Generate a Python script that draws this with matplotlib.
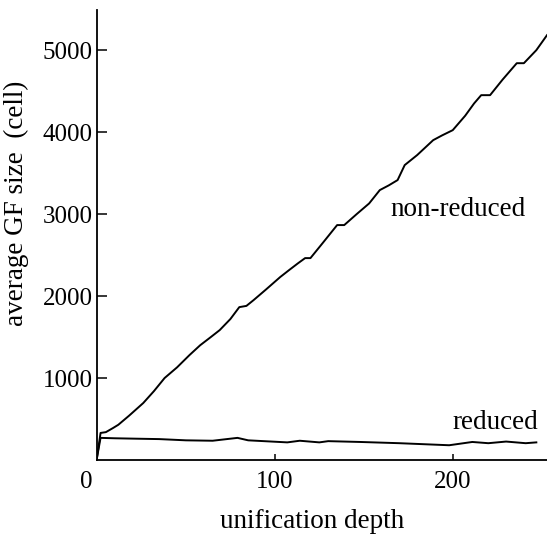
import matplotlib
matplotlib.use('Agg')
import matplotlib.pyplot as plt
import matplotlib.transforms as mtransforms

# unification depth vs average GF size (cell)
nonred_depth = [0, 2, 5, 9, 12, 18, 26, 32, 38, 45, 52, 58, 64, 69, 75, 80, 84, 88,
                95, 103, 108, 113, 117, 120, 127, 135, 139, 146, 153, 159, 164, 169,
                173, 180, 189, 194, 200, 207, 212, 216, 221, 228, 236, 240, 247, 253]
nonred_size = [30, 330, 340, 390, 430, 540, 695, 840, 1000, 1130, 1280, 1400, 1500,
               1585, 1720, 1865, 1880, 1950, 2080, 2232, 2317, 2400, 2463, 2463, 2650,
               2866, 2866, 3000, 3130, 3293, 3350, 3415, 3598, 3720, 3902, 3960, 4024,
               4200, 4350, 4451, 4451, 4640, 4841, 4841, 5000, 5183]

red_depth = [0, 2, 10, 22, 35, 50, 65, 79, 85, 107, 114, 125, 130, 148, 170, 198,
             211, 220, 230, 241, 247]
red_size = [30, 270, 265, 260, 255, 240, 235, 270, 240, 215, 235, 215, 230, 220, 205,
            180, 220, 205, 225, 205, 215]

x_ticks = [0, 100, 200]
y_ticks = [1000, 2000, 3000, 4000, 5000]

plt.rcParams['font.family'] = ['Liberation Serif', 'DejaVu Serif']

fig = plt.figure(figsize=(5.47, 5.35), dpi=100)
ax = fig.add_axes([97 / 547, 75 / 535, 450 / 547, 450 / 535])

ax.plot(nonred_depth, nonred_size, color='black', lw=1.4)
ax.plot(red_depth, red_size, color='black', lw=1.4)

ax.set_xlim(0, 253)
ax.set_ylim(0, 5490)

for side in ['top', 'right']:
    ax.spines[side].set_visible(False)
for side in ['left', 'bottom']:
    ax.spines[side].set_linewidth(1.3)

ax.set_xticks(x_ticks)
ax.set_yticks(y_ticks)
ax.tick_params(axis='y', direction='in', length=7, width=1.1, labelsize=18, pad=3)
ax.tick_params(axis='x', direction='in', length=4, width=1.1, labelsize=18, pad=8)
ax.xaxis.get_major_ticks()[0].tick1line.set_visible(False)

# the "0" sits a bit left of the origin in the original
lbl0 = ax.get_xticklabels()[0]
lbl0.set_transform(lbl0.get_transform() +
                   mtransforms.ScaledTranslation(-11 / 100, 0, fig.dpi_scale_trans))

ax.set_xlabel('unification depth', fontsize=19.5)
ax.set_ylabel('average GF size  (cell)', fontsize=19.5)
ax.xaxis.set_label_coords(0.478, -0.108)
ax.yaxis.set_label_coords(-0.152, 0.57)

ax.text(203, 3060, 'non-reduced', fontsize=19.5, ha='center', va='center')
ax.text(224, 463, 'reduced', fontsize=19.5, ha='center', va='center')

fig.savefig('out.png', dpi=100)
